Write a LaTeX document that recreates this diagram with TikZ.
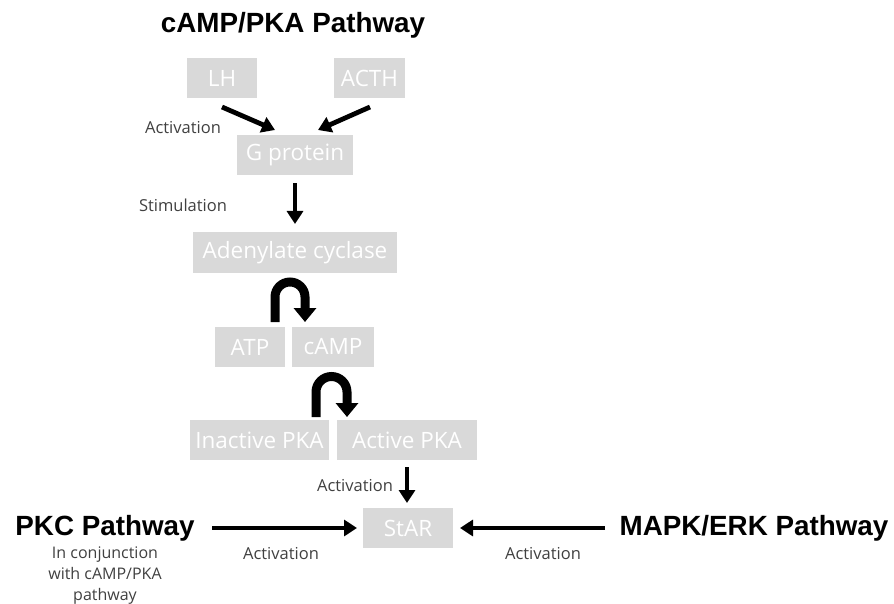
\documentclass[tikz,border=0pt]{standalone}
\usepackage{fontspec}
\setmainfont{Open Sans}
\newfontfamily\titlefont{Liberation Sans}
\usetikzlibrary{arrows.meta}
\definecolor{boxgray}{HTML}{D9D9D9}
\definecolor{labgray}{HTML}{404040}
\begin{document}
\begin{tikzpicture}[x=1pt,y=-1pt,
  box/.style={fill=boxgray, text=white, minimum height=40pt, inner sep=0pt, font=\fontsize{22.5}{26}\selectfont},
  lab/.style={text=labgray, font=\fontsize{16.5}{19}\selectfont},
  ttl/.style={font=\titlefont\bfseries\fontsize{27.8}{30}\selectfont},
  arr/.style={line width=4.8pt, -{Triangle[width=16pt,length=13pt]}},
  uarr/.style={line width=9pt, -{Triangle[width=22pt,length=14pt]}}]
\useasboundingbox (0,0) rectangle (894,604);
\node[ttl] (t1) at (293,25) {cAMP/PKA Pathway};
\node[box, minimum width=70pt] (lh) at (222,78) {LH};
\node[box, minimum width=71pt] (acth) at (369.5,78) {ACTH};
\node[box, minimum width=116pt] (g) at (295,155) {G protein};
\node[box, minimum width=204pt] (ac) at (295,252.5) {Adenylate cyclase};
\node[box, minimum width=70pt] (atp) at (250,347) {ATP};
\node[box, minimum width=82pt] (camp) at (333,347) {cAMP};
\node[box, minimum width=139pt] (ipka) at (259.5,440) {Inactive PKA};
\node[box, minimum width=140pt] (apka) at (407,440) {Active PKA};
\node[box, minimum width=90pt] (star) at (408,528) {StAR};
\node[ttl] (pkc) at (105,528) {PKC Pathway};
\node[ttl] (mapk) at (754,528) {MAPK/ERK Pathway};
\node[lab] (l1) at (183,128) {Activation};
\node[lab] (l2) at (183,205) {Stimulation};
\node[lab] (l3) at (355,486) {Activation};
\node[lab] (l4) at (281,554) {Activation};
\node[lab] (l5) at (543,554) {Activation};
\node[lab, align=center, font=\fontsize{16}{21}\selectfont] (l6) at (105,576) {In conjunction\\with cAMP/PKA\\pathway};
\coordinate (a1s) at (222,107); \coordinate (a1e) at (275,130);
\coordinate (a2s) at (370,107); \coordinate (a2e) at (318,130);
\draw[arr] (a1s) -- (a1e);
\draw[arr] (a2s) -- (a2e);
\draw[arr] (g.south) ++(0,8) coordinate (g1) -- (295,224) coordinate (g2);
\draw[uarr] (275,322) -- (275,297) arc[start angle=180,end angle=360,radius=15] -- (305,322);
\draw[uarr] (316,417) -- (316,392) arc[start angle=180,end angle=360,radius=15.5] -- (347,417);
\draw[arr] (407,467) -- (407,503);
\draw[arr] (212,528) -- (357,528);
\draw[arr] (605,528) -- (460,528);
\end{tikzpicture}
\end{document}
